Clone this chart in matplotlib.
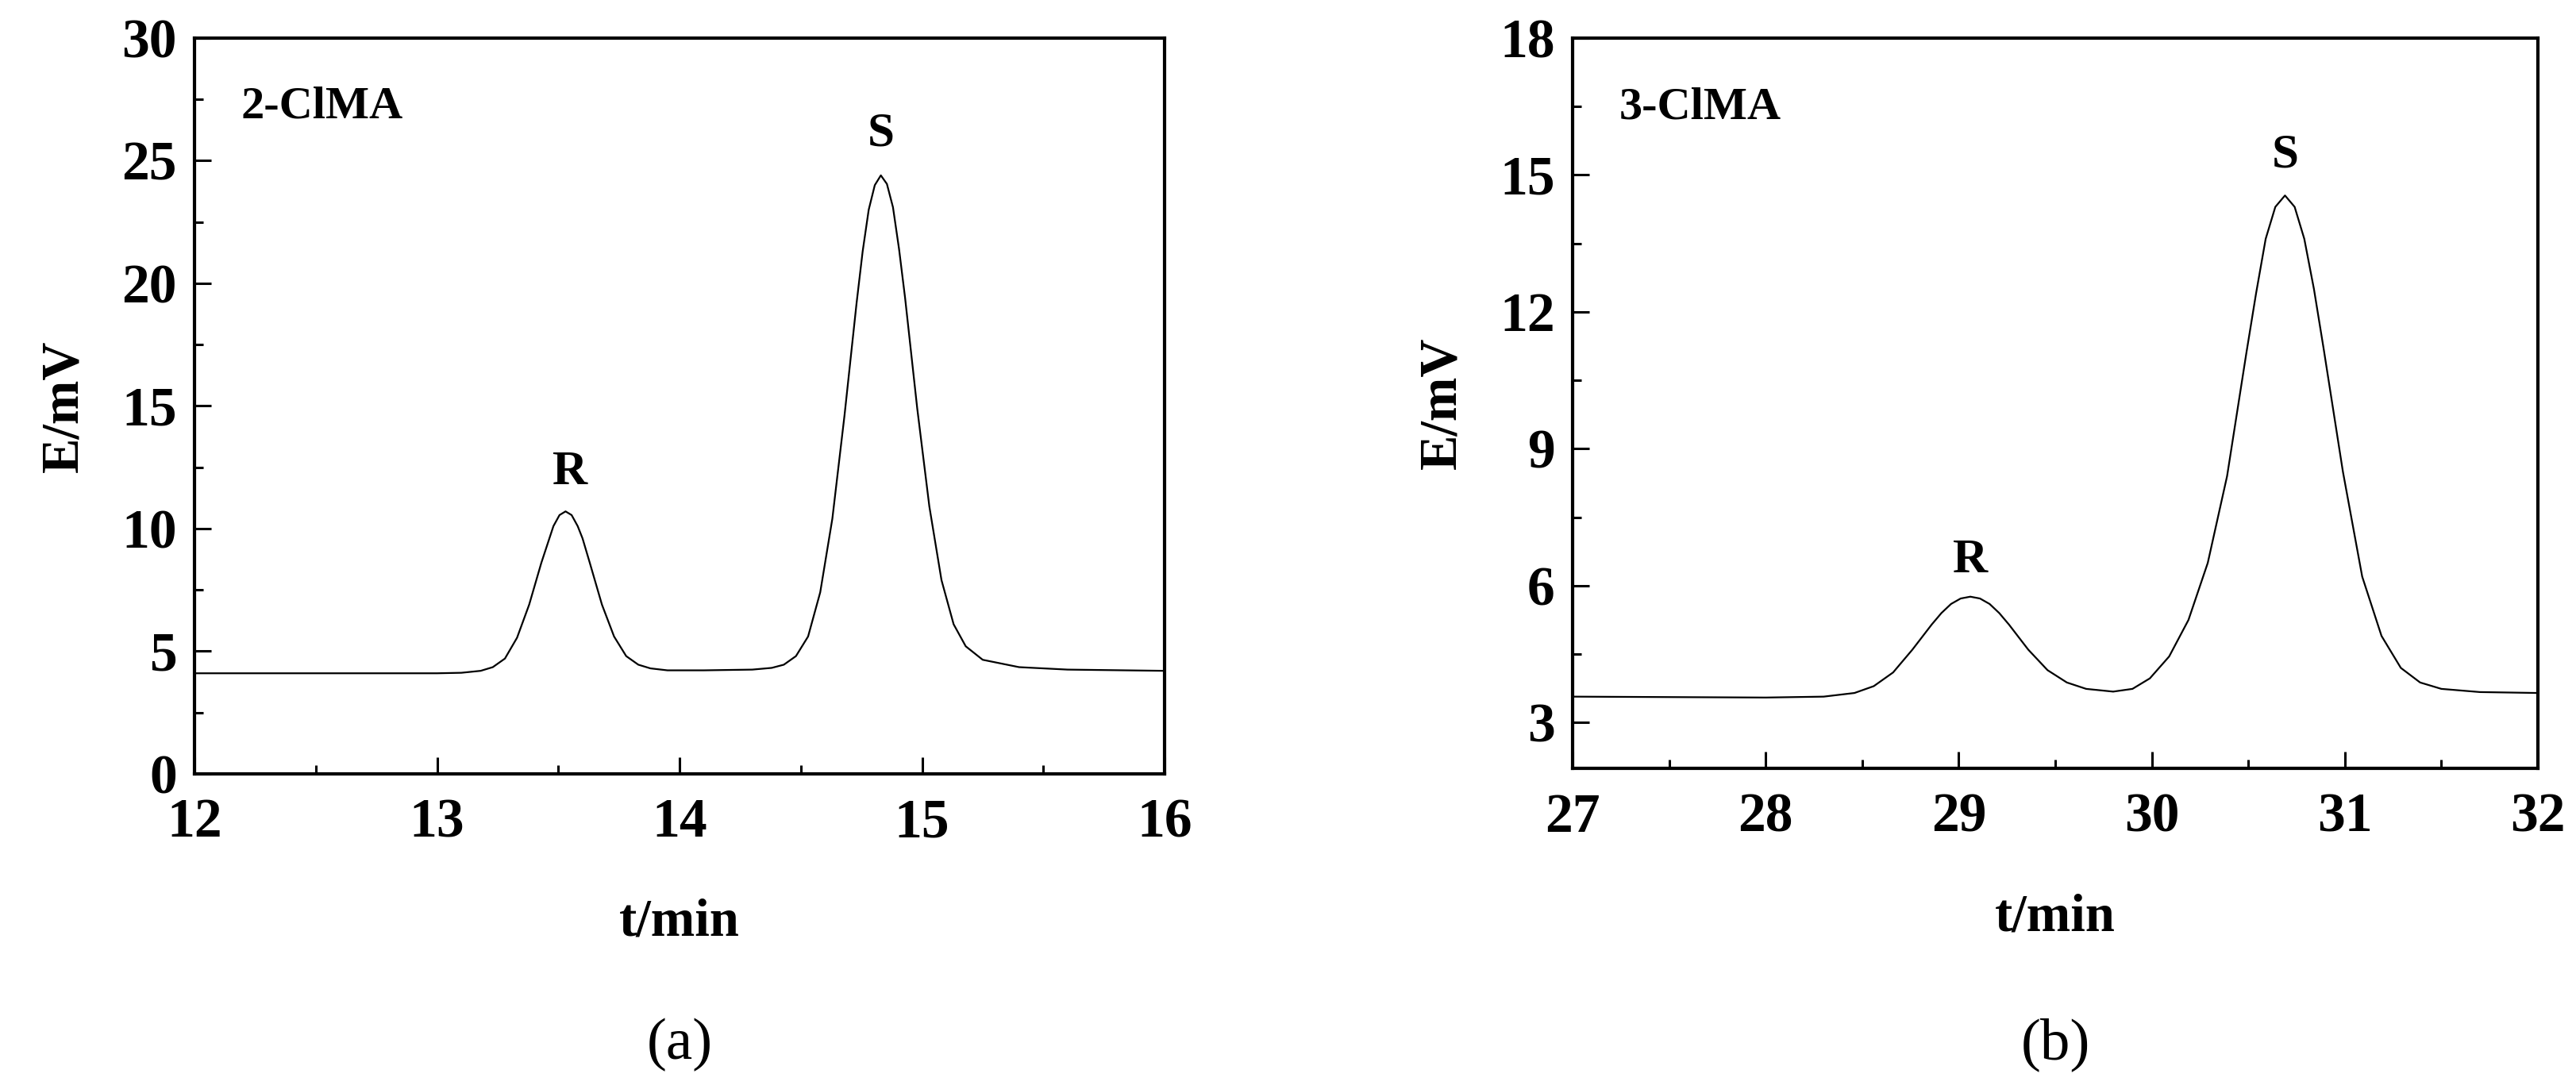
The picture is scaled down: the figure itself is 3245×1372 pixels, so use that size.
import matplotlib
matplotlib.use("Agg")
import matplotlib.pyplot as plt
from matplotlib.ticker import MultipleLocator

plt.rcParams.update({"font.family": "Liberation Serif", "font.weight": "bold"})

# chromatogram (a): 2-ClMA
T_A = [12.0, 12.5, 13.0, 13.1, 13.18, 13.23, 13.28, 13.33, 13.38, 13.43, 13.46,
       13.48, 13.505, 13.53, 13.555, 13.58, 13.60, 13.63, 13.68, 13.73, 13.78,
       13.83, 13.88, 13.95, 14.1,
       14.3, 14.38, 14.43, 14.48, 14.53, 14.58, 14.63, 14.68, 14.73, 14.755,
       14.78, 14.805, 14.83, 14.855, 14.88, 14.905, 14.93, 14.98, 15.03, 15.08,
       15.13, 15.18, 15.25, 15.4, 15.6, 16.0]
E_A = [4.1, 4.1, 4.1, 4.12, 4.2, 4.35, 4.7, 5.55, 6.9, 8.6, 9.5,
       10.1, 10.55, 10.7, 10.55, 10.1, 9.6, 8.6, 6.9, 5.6, 4.8,
       4.45, 4.3, 4.22, 4.22,
       4.25, 4.32, 4.45, 4.8, 5.6, 7.4, 10.4, 14.6, 19.2, 21.3,
       23.0, 24.0, 24.4, 24.05, 23.1, 21.4, 19.4, 14.9, 10.9, 7.9,
       6.1, 5.2, 4.65, 4.35, 4.25, 4.2]

# chromatogram (b): 3-ClMA
T_B = [27.0, 28.0, 28.3, 28.46, 28.56, 28.66, 28.76, 28.86, 28.91, 28.96, 29.01,
       29.06, 29.11, 29.16, 29.21, 29.26, 29.36, 29.46, 29.56, 29.66, 29.8, 29.9,
       29.99, 30.09, 30.19, 30.29, 30.39, 30.49, 30.54, 30.59, 30.64, 30.69,
       30.74, 30.79, 30.84, 30.89, 30.99, 31.09, 31.19, 31.29, 31.39, 31.5,
       31.7, 32.0]
E_B = [3.57, 3.55, 3.57, 3.65, 3.8, 4.1, 4.6, 5.15, 5.4, 5.6, 5.72,
       5.76, 5.72, 5.6, 5.4, 5.15, 4.6, 4.15, 3.88, 3.74, 3.68, 3.74,
       3.97, 4.45, 5.25, 6.5, 8.4, 11.1, 12.4, 13.6, 14.3, 14.55,
       14.3, 13.6, 12.5, 11.2, 8.5, 6.2, 4.9, 4.2, 3.88, 3.74,
       3.67, 3.65]

fig = plt.figure(figsize=(32.45, 13.72), dpi=100)
ax_a = fig.add_axes([0.0755, 0.2894, 0.3766, 0.6757])
ax_b = fig.add_axes([0.6105, 0.2945, 0.3747, 0.6706])


def style(ax):
    for s in ax.spines.values():
        s.set_linewidth(3)
    ax.tick_params(which="both", direction="in", top=False, right=False,
                   width=2.2, labelsize=50)
    ax.tick_params(which="major", length=15)
    ax.tick_params(which="minor", length=8)
    ax.tick_params(axis="x", pad=22)
    ax.tick_params(axis="y", pad=16)
    ax.set_xlabel("t/min", fontsize=48, fontweight="bold", labelpad=45)
    ax.set_ylabel("E/mV", fontsize=48, fontweight="bold", labelpad=30)


ax_a.plot(T_A, E_A, color="black", lw=1.6)
ax_a.set_xlim(12, 16); ax_a.set_ylim(0, 30)
ax_a.xaxis.set_major_locator(MultipleLocator(1))
ax_a.xaxis.set_minor_locator(MultipleLocator(0.5))
ax_a.yaxis.set_major_locator(MultipleLocator(5))
ax_a.yaxis.set_minor_locator(MultipleLocator(2.5))
style(ax_a)
ax_a.text(12.19, 27.2, "2-ClMA", fontsize=42, va="center", ha="left")
ax_a.text(13.55, 12.3, "R", fontsize=44, va="center", ha="center")
ax_a.text(14.83, 26.1, "S", fontsize=44, va="center", ha="center")

ax_b.plot(T_B, E_B, color="black", lw=1.6)
ax_b.set_xlim(27, 32); ax_b.set_ylim(2, 18)
ax_b.set_yticks([3, 6, 9, 12, 15, 18])
ax_b.xaxis.set_major_locator(MultipleLocator(1))
ax_b.xaxis.set_minor_locator(MultipleLocator(0.5))
ax_b.yaxis.set_minor_locator(MultipleLocator(1.5))
style(ax_b)
ax_b.text(27.24, 16.47, "3-ClMA", fontsize=42, va="center", ha="left")
ax_b.text(29.06, 6.56, "R", fontsize=44, va="center", ha="center")
ax_b.text(30.69, 15.44, "S", fontsize=44, va="center", ha="center")

fig.text(0.264, 1 - 1316 / 1372, "(a)", fontsize=54, fontweight="normal",
         ha="center", va="center")
fig.text(0.798, 1 - 1316 / 1372, "(b)", fontsize=54, fontweight="normal",
         ha="center", va="center")

fig.savefig("out.png", dpi=100, facecolor="white")
